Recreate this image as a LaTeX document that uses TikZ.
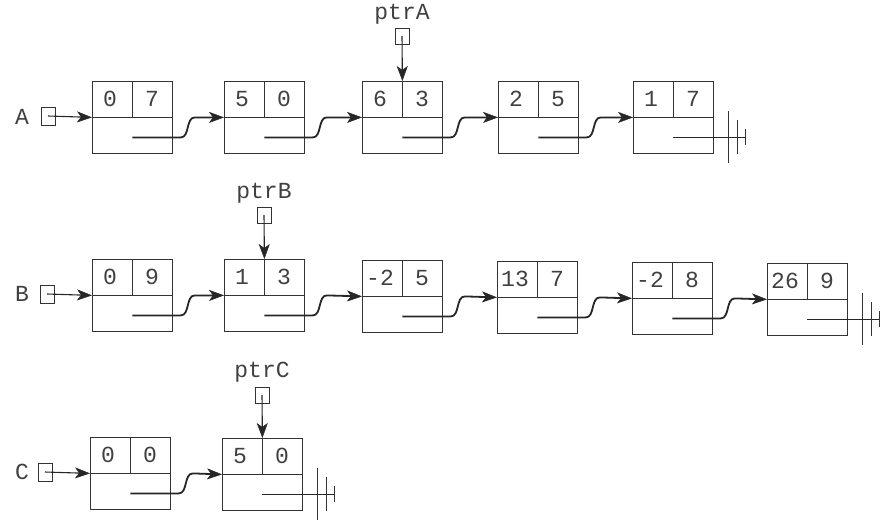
\documentclass[tikz,border=0pt]{standalone}
\usepackage{fontspec}
\setmonofont{Liberation Mono}
\usetikzlibrary{calc,arrows.meta}
\tikzset{
  cell/.style={draw=black!80, line width=0.8pt, minimum width=80pt, minimum height=72pt, inner sep=0pt, anchor=north west},
  sep/.style={draw=black!80, line width=0.8pt},
  val/.style={font=\ttfamily\fontsize{23}{26}\selectfont, text=black!75, inner sep=0pt},
  lbl/.style={font=\ttfamily\fontsize{23}{26}\selectfont, text=black!75, inner sep=0pt},
  hbox/.style={draw=black!80, line width=0.8pt, minimum width=14pt, minimum height=18pt, inner sep=0pt},
  pbox/.style={draw=black!80, line width=0.8pt, minimum width=14pt, minimum height=16pt, inner sep=0pt},
  tip/.style={-{Stealth[length=15pt,width=11pt,inset=4pt,line width=0.5pt]}},
  ptr/.style={draw=black!85, line width=1.8pt, tip},
  arr/.style={draw=black!85, line width=1.1pt, tip},
  nil/.style={draw=black!80, line width=0.8pt},
  nilline/.style={draw=black!85, line width=1.2pt},
}
\newcommand\lnode[5]{%
  \node[cell] (#1) at (#2,#3) {};
  \draw[sep] (#1.west) -- (#1.east) (#1.north) -- (#1.center);
  \node[val] (#1l) at ($(#1.north west)+(18,18)$) {#4};
  \node[val] (#1r) at ($(#1.north west)+(60,18)$) {#5};
}
\newcommand\link[2]{%
  \draw[ptr] ($(#1.center)+(0,20)$) -- ($(#1.east)+(8,20)$)
    .. controls ($(#1.east)+(17,20)$) and ($(#1.east)+(13,0)$) .. ($(#1.east)+(22,0)$) -- (#2.west);
}
\newcommand\gnd[1]{%
  \coordinate (#1g) at ($(#1.east)+(32,20)$);
  \draw[nilline] ($(#1.center)+(0,20)$) -- (#1g);
  \draw[nil] ($(#1.east)+(15,-6)$) -- ($(#1.east)+(15,46)$)
             ($(#1.east)+(24,3)$) -- ($(#1.east)+(24,37)$)
             ($(#1.east)+(32,12)$) -- (#1g) -- ($(#1.east)+(32,28)$);
}
\begin{document}
\begin{tikzpicture}[x=1pt, y={(0pt,-1pt)}]
\useasboundingbox (0,0) rectangle (882,523);
% Row A
\lnode{a1}{92}{81}{0}{7}
\lnode{a2}{224}{81}{5}{0}
\lnode{a3}{362}{81}{6}{3}
\lnode{a4}{498}{81}{2}{5}
\lnode{a5}{633}{81}{1}{7}
\node[lbl] (la) at (22,117) {A};
\node[hbox] (ha) at (48,116) {};
\draw[arr] (ha.center) -- (a1.west);
\link{a1}{a2}\link{a2}{a3}\link{a3}{a4}\link{a4}{a5}
\gnd{a5}
\node[lbl] (ta) at (402,14) {ptrA};
\node[pbox] (pa) at (402,36) {};
\draw[arr] (pa.center) -- (a3.north);
% Row B
\lnode{b1}{92}{259}{0}{9}
\lnode{b2}{224}{259}{1}{3}
\lnode{b3}{362}{260}{-2}{5}
\lnode{b4}{497}{261}{13}{7}
\lnode{b5}{632}{262}{-2}{8}
\lnode{b6}{767}{263}{26}{9}
\node[lbl] (lb) at (22,294) {B};
\node[hbox] (hb) at (47,294) {};
\draw[arr] (hb.center) -- (b1.west);
\link{b1}{b2}\link{b2}{b3}\link{b3}{b4}\link{b4}{b5}\link{b5}{b6}
\gnd{b6}
\node[lbl] (tb) at (264,193) {ptrB};
\node[pbox] (pb) at (264,215) {};
\draw[arr] (pb.center) -- (b2.north);
% Row C
\lnode{c1}{90}{437}{0}{0}
\lnode{c2}{222}{438}{5}{0}
\node[lbl] (lc) at (22,472) {C};
\node[hbox] (hc) at (45,472) {};
\draw[arr] (hc.center) -- (c1.west);
\link{c1}{c2}
\gnd{c2}
\node[lbl] (tc) at (262,372) {ptrC};
\node[pbox] (pc) at (262,395) {};
\draw[arr] (pc.center) -- (c2.north);
\end{tikzpicture}
\end{document}
